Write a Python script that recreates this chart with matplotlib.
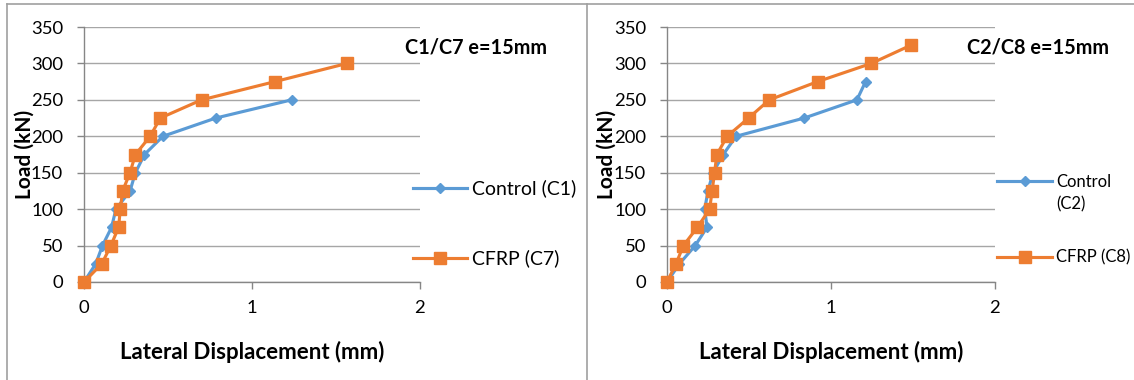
import matplotlib
matplotlib.use("Agg")
import matplotlib.pyplot as plt
from matplotlib.lines import Line2D

plt.rcParams['font.family'] = ['Lato', 'DejaVu Sans']

# ---- data ----
load_c1 = [0, 25, 50, 75, 100, 125, 150, 175, 200, 225, 250]
disp_c1 = [0, 0.07, 0.11, 0.164, 0.19, 0.274, 0.306, 0.36, 0.47, 0.784, 1.236]
load_c7 = [0, 25, 50, 75, 100, 125, 150, 175, 200, 225, 250, 275, 300]
disp_c7 = [0, 0.106, 0.16, 0.206, 0.216, 0.23, 0.274, 0.306, 0.394, 0.454, 0.70, 1.136, 1.566]

load_c2 = [0, 25, 50, 75, 100, 125, 150, 175, 200, 225, 250, 275]
disp_c2 = [0, 0.076, 0.172, 0.244, 0.23, 0.25, 0.28, 0.343, 0.421, 0.836, 1.158, 1.211]
load_c8 = [0, 25, 50, 75, 100, 125, 150, 175, 200, 225, 250, 275, 300, 325]
disp_c8 = [0, 0.055, 0.10, 0.185, 0.26, 0.275, 0.29, 0.304, 0.367, 0.497, 0.624, 0.918, 1.246, 1.487]

titles = ["C1/C7 e=15mm", "C2/C8 e=15mm"]
labels_left = ["Control (C1)", "CFRP (C7)"]
labels_right = ["Control\n(C2)", "CFRP (C8)"]
xticks = [0, 1, 2]
yticks = [0, 50, 100, 150, 200, 250, 300, 350]

BLUE = "#5B9BD5"
ORANGE = "#ED7D31"
GRID = "#A6A6A6"
SPINE = "#868686"
FRAME = "#A0A0A0"

W, H = 1134, 380
fig = plt.figure(figsize=(W / 100, H / 100), dpi=100)

def fx(px):
    return px / W

def fy(py):
    return 1 - py / H

def make_ax(x0, x1, ylabel_px):
    ax = fig.add_axes([fx(x0), fy(282), fx(x1) - fx(x0), fy(27) - fy(282)])
    ax.set_xlim(0, 2)
    ax.set_ylim(0, 350)
    ax.set_xticks(xticks)
    ax.set_yticks(yticks)
    ax.grid(axis='y', color=GRID, linewidth=1.0)
    ax.set_axisbelow(True)
    for s in ['top', 'right']:
        ax.spines[s].set_visible(False)
    for s in ['left', 'bottom']:
        ax.spines[s].set_color(SPINE)
        ax.spines[s].set_linewidth(1.0)
    ax.tick_params(axis='both', colors=SPINE, length=5, width=1.0,
                   labelsize=13.3, labelcolor='black')
    ax.tick_params(axis='y', pad=10)
    ax.tick_params(axis='x', pad=8)
    ax.set_xlabel("Lateral Displacement (mm)", fontsize=16, fontweight='bold', va='center')
    ax.set_ylabel("Load (kN)", fontsize=15, fontweight='bold', va='center')
    ax.xaxis.set_label_coords(0.5, (282 - 352) / 255)
    ax.yaxis.set_label_coords((ylabel_px - x0) / (x1 - x0), 0.5)
    return ax

def draw_series(ax, xs, ys, color, marker, ms):
    ax.plot(xs, ys, color=color, linewidth=2.25, marker=marker, markersize=ms,
            markerfacecolor=color, markeredgecolor=color, clip_on=False, zorder=3)

def legend_entry(x0, x1, y, color, marker, ms, text, fs, ty=None, tx=None):
    ln = Line2D([fx(x0), fx((x0 + x1) / 2), fx(x1)], [fy(y)] * 3,
                transform=fig.transFigure, color=color, linewidth=2.25,
                marker=marker, markersize=ms, markevery=[1],
                markerfacecolor=color, markeredgecolor=color)
    fig.add_artist(ln)
    fig.text(fx(tx if tx else x1 + 5), fy(ty if ty else y), text, fontsize=fs,
             va='center', ha='left', linespacing=1.5)

# left chart
axL = make_ax(84, 420, 25)
draw_series(axL, disp_c1, load_c1, BLUE, 'D', 5.5)
draw_series(axL, disp_c7, load_c7, ORANGE, 's', 8.5)
fig.text(fx(476), fy(47), titles[0], fontsize=14.3, fontweight='bold', ha='center', va='center')
legend_entry(413, 467, 188, BLUE, 'D', 5.5, labels_left[0], 14)
legend_entry(413, 467, 258, ORANGE, 's', 8.5, labels_left[1], 14)

# right chart
axR = make_ax(667, 995, 607)
draw_series(axR, disp_c2, load_c2, BLUE, 'D', 5.5)
draw_series(axR, disp_c8, load_c8, ORANGE, 's', 8.5)
fig.text(fx(1038), fy(47), titles[1], fontsize=14.3, fontweight='bold', ha='center', va='center')
legend_entry(997, 1052, 181, BLUE, 'D', 5.5, labels_right[0], 12, ty=193, tx=1056)
legend_entry(997, 1052, 257, ORANGE, 's', 8.5, labels_right[1], 12, tx=1056)

# chart-area frames
for xs, ys in [([6.5, 6.5], [4, 380]), ([586.5, 586.5], [4, 380]), ([6.5, 1134], [4, 4])]:
    fig.add_artist(Line2D([fx(v) for v in xs], [fy(v) for v in ys],
                          transform=fig.transFigure, color=FRAME, linewidth=1.2))

fig.savefig("out.png", dpi=100)
